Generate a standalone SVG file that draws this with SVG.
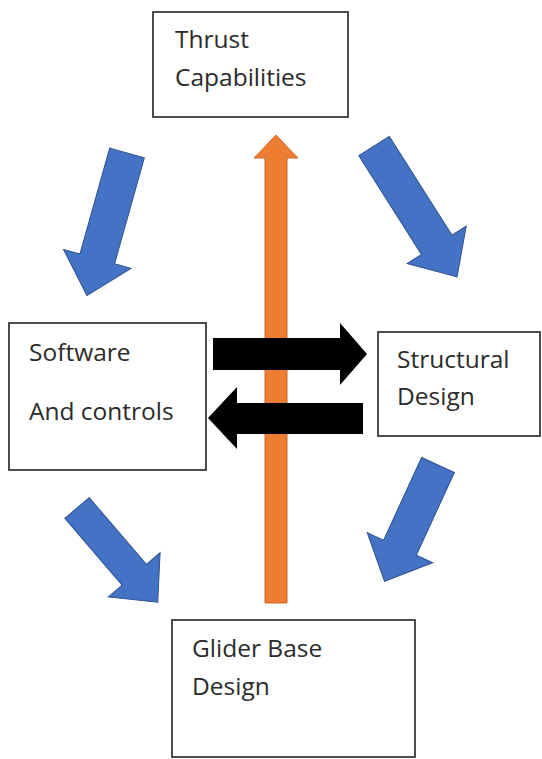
<svg xmlns="http://www.w3.org/2000/svg" width="542" height="759" viewBox="0 0 542 759">
  <style>
    .box { fill: #ffffff; stroke: #3a3a3a; stroke-width: 1.8; }
    .label { font-family: "Open Sans", "Noto Sans", "Liberation Sans", sans-serif; font-size: 24.5px; fill: #2b2b2b; }
    .flow { fill: #4472c4; stroke: #2f528f; stroke-width: 1; stroke-linejoin: miter; }
    .thrust { fill: #ed7d31; stroke: #c96a29; stroke-width: 1; }
    .link { fill: #000000; }
  </style>

  <rect width="542" height="759" fill="#ffffff"/>

  <g id="connectors">
    <!-- vertical thrust arrow -->
    <polygon class="thrust" points="265,603 265,158 254,158 276,135 298,158 287,158 287,603"/>
    <!-- exchange arrows between software and structure -->
    <polygon class="link" points="213,338 340,338 340,323 367,354 340,385 340,370 213,370"/>
    <polygon class="link" points="363,403 237,403 237,387 208,418 237,449 237,434 363,434"/>
    <!-- circular flow arrows (block arrows drawn along +x, then rotated) -->
    <polygon class="flow" transform="translate(127,153) rotate(105.7)" points="0,-18 110,-18 110,-35 148,0 110,35 110,18 0,18"/>
    <polygon class="flow" transform="translate(374,146) rotate(57.6)" points="0,-18 117,-18 117,-35 155,0 117,35 117,18 0,18"/>
    <polygon class="flow" transform="translate(77,508) rotate(49.4)" points="0,-16 88,-16 88,-34 124,0 88,34 88,16 0,16"/>
    <polygon class="flow" transform="translate(438,465) rotate(114.7)" points="0,-18 91,-18 91,-36 128,0 91,36 91,18 0,18"/>
  </g>

  <g id="thrust-capabilities">
    <rect class="box" x="153" y="12" width="195" height="105"/>
    <text class="label" x="175" y="48">Thrust</text>
    <text class="label" x="175" y="86">Capabilities</text>
  </g>

  <g id="software-controls">
    <rect class="box" x="9" y="323" width="197" height="147"/>
    <text class="label" x="29" y="361">Software</text>
    <text class="label" x="29" y="420">And controls</text>
  </g>

  <g id="structural-design">
    <rect class="box" x="378" y="332" width="162" height="104"/>
    <text class="label" x="397" y="368">Structural</text>
    <text class="label" x="397" y="405">Design</text>
  </g>

  <g id="glider-base-design">
    <rect class="box" x="172" y="620" width="243" height="137"/>
    <text class="label" x="192" y="657">Glider Base</text>
    <text class="label" x="192" y="695">Design</text>
  </g>
</svg>
